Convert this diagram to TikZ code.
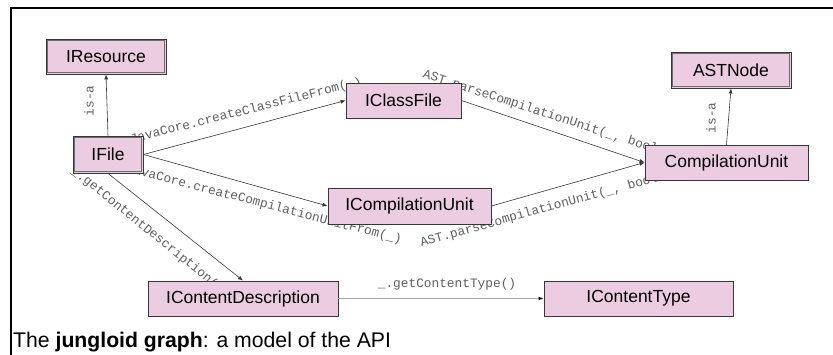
\documentclass[tikz,border=0pt]{standalone}
\usepackage{fontspec}
\setmainfont{Liberation Sans}
\newfontfamily\lblfont{Liberation Mono}
\usetikzlibrary{arrows.meta}
\pgfdeclarelayer{bg}
\pgfsetlayers{bg,main}
\definecolor{boxfill}{RGB}{236,204,224}
\definecolor{boxline}{RGB}{55,55,55}
\definecolor{innerline}{RGB}{110,110,110}
\definecolor{lblgray}{RGB}{95,95,95}
\definecolor{edgegray}{RGB}{165,165,165}
\begin{document}
\begin{tikzpicture}[x=1pt,y=-1pt,
  cls/.style={draw=boxline, fill=boxfill, line width=0.8pt, inner sep=0pt,
    font=\fontsize{17.5}{20}\selectfont},
  inner/.style={draw=innerline, line width=0.6pt},
  conn/.style={draw=boxline, line width=0.6pt, -{Latex[length=5pt,width=4pt]}},
  grayconn/.style={draw=edgegray, line width=1.6pt, -{Latex[length=5pt,width=4pt,fill=black,color=black]}},
  lbl/.style={inner sep=0pt, text=lblgray, font=\lblfont\fontsize{12.8}{14}\selectfont}]
\useasboundingbox (0,0) rectangle (833,355);
\draw[line width=1.3pt] (11,355) -- (11,8) -- (833,8);

% classes
\node[cls, minimum width=120pt, minimum height=35pt] (IResource) at (106,56.5) {IResource};
\node[cls, minimum width=70pt, minimum height=37pt] (IFile) at (108,154.5) {IFile};
\node[cls, minimum width=115pt, minimum height=35pt] (IClassFile) at (403.5,100.5) {IClassFile};
\node[cls, minimum width=163pt, minimum height=36pt] (ICompilationUnit) at (409.5,206) {ICompilationUnit};
\node[cls, minimum width=163pt, minimum height=35pt] (CompilationUnit) at (726.5,162.5) {CompilationUnit};
\node[cls, minimum width=120pt, minimum height=36pt] (ASTNode) at (731,70) {ASTNode};
\node[cls, minimum width=190pt, minimum height=35pt] (IContentDescription) at (243,298.5) {IContentDescription};
\node[cls, minimum width=189pt, minimum height=35pt] (IContentType) at (638.5,298.5) {IContentType};

% inner lines of the double-bordered boxes
\foreach \n in {IResource,IFile,ASTNode}
  \draw[inner] ([shift={(2,2)}]\n.north west) rectangle ([shift={(-2,-2)}]\n.south east);

% connector labels (behind the boxes)
\begin{pgfonlayer}{bg}
\node[lbl, rotate=90] (l1) at (89,101) {is-a};
\node[lbl, rotate=14] (l2) at (246,111) {JavaCore.createClassFileFrom(\_)};
\node[lbl, rotate=-14.6] (l3) at (264,204.5) {JavaCore.createCompilationUnitFrom(\_)};
\node[lbl, rotate=-18] (l4) at (555,117) {AST.parseCompilationUnit(\_, boolean)};
\node[lbl, rotate=15.4] (l5) at (554,206.5) {AST.parseCompilationUnit(\_, boolean)};
\node[lbl, rotate=90] (l6) at (711,118) {is-a};
\node[lbl, rotate=-38.9] (l7) at (147.5,230) {\_.getContentDescription()};
\node[lbl] (l8) at (447,284) {\_.getContentType()};
\end{pgfonlayer}

% connectors
\draw[conn] (IFile.north) -- (IResource.south);
\draw[conn] (IFile.east) -- (IClassFile.west);
\draw[conn] (IFile.east) -- (ICompilationUnit.west);
\draw[conn] (IClassFile.east) -- (CompilationUnit.west);
\draw[conn] (ICompilationUnit.east) -- (CompilationUnit.west);
\draw[conn] (CompilationUnit.north) -- (ASTNode.south);
\draw[conn] (IFile.south) -- (IContentDescription.north);
\draw[grayconn] (IContentDescription.east) -- (IContentType.west);

\node[anchor=base west, inner sep=0pt, font=\fontsize{21.2}{24}\selectfont] (caption) at (13,348)
  {The \textbf{jungloid graph}: a model of the API};
\end{tikzpicture}
\end{document}
